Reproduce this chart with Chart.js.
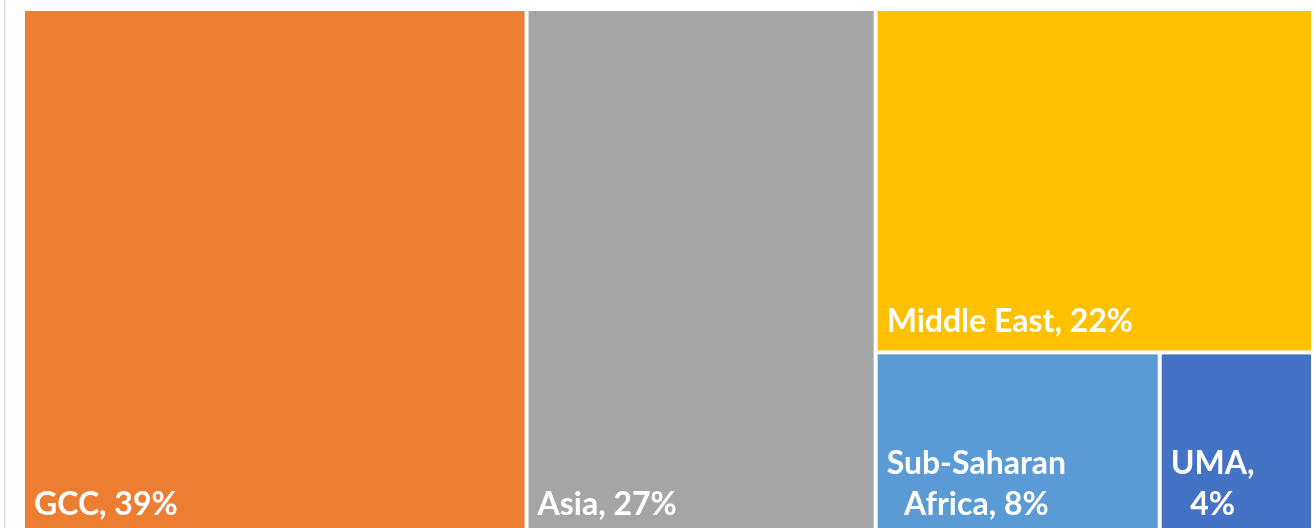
<!DOCTYPE html>
<html><head><meta charset="utf-8">
<script src="https://cdn.jsdelivr.net/npm/chart.js@4"></script>
<style>
html,body{margin:0;padding:0;background:#fff;overflow:hidden;}
#wrap{position:relative;width:1314px;height:545px;}
</style></head><body>
<div id="wrap"><canvas id="c" width="1314" height="545"></canvas></div>
<script>
// ---- data ----
const categories = ['GCC', 'Asia', 'Middle East', 'Sub-Saharan Africa', 'UMA'];
const shares = [38.8, 26.9, 22, 7.6, 4.1];
const colors = ['#ED7D31', '#A5A5A5', '#FFC000', '#5B9BD5', '#4472C4'];

// ---- squarified treemap layout (in pixel-proportional units) ----
function worst(row, side) {
  const s = row.reduce((a, b) => a + b, 0);
  const mx = Math.max(...row), mn = Math.min(...row);
  return Math.max(side * side * mx / (s * s), (s * s) / (side * side * mn));
}
function squarify(areas, x, y, w, h) {
  const out = [];
  let i = 0;
  while (i < areas.length) {
    const side = Math.min(w, h);
    let row = [areas[i]], j = i + 1;
    while (j < areas.length && worst(row.concat(areas[j]), side) <= worst(row, side)) {
      row.push(areas[j]); j++;
    }
    const s = row.reduce((a, b) => a + b, 0);
    if (w >= h) {
      const cw = s / h; let cy = y;
      row.forEach(a => { const ch = a / cw; out.push({x: x, y: cy, w: cw, h: ch}); cy += ch; });
      x += cw; w -= cw;
    } else {
      const rh = s / w; let cx = x;
      row.forEach(a => { const rw = a / rh; out.push({x: cx, y: y, w: rw, h: rh}); cx += rw; });
      y += rh; h -= rh;
    }
    i = j;
  }
  return out;
}

function wrapText(ctx, text, maxW) {
  const words = text.split(' ');
  const lines = [];
  let cur = words[0];
  for (let k = 1; k < words.length; k++) {
    const t = cur + ' ' + words[k];
    if (ctx.measureText(t).width <= maxW) cur = t;
    else { lines.push(cur); cur = words[k]; }
  }
  lines.push(cur);
  return lines;
}

const treemapPlugin = {
  id: 'treemapCells',
  beforeDraw(chart) {
    const ctx = chart.ctx;
    ctx.save();
    ctx.strokeStyle = '#D9D9D9';
    ctx.lineWidth = 1.3;
    ctx.beginPath();
    ctx.moveTo(4.6, 0); ctx.lineTo(4.6, chart.height);
    ctx.stroke();
    ctx.restore();
  },
  afterDatasetsDraw(chart, args, opts) {
    const ctx = chart.ctx;
    const xs = chart.scales.x, ys = chart.scales.y;
    const ca = chart.chartArea;
    const W = ca.right - ca.left, H = ca.bottom - ca.top;
    const total = opts.values.reduce((a, b) => a + b, 0);
    const areas = opts.values.map(v => v / total * W * H);
    const rects = squarify(areas, 0, 0, W, H);
    ctx.save();
    rects.forEach((r, i) => {
      // convert to data units, then to pixels through the scales
      const x0 = xs.getPixelForValue(r.x / W * 100);
      const x1 = xs.getPixelForValue((r.x + r.w) / W * 100);
      const y0 = ys.getPixelForValue(r.y / H * 100);
      const y1 = ys.getPixelForValue((r.y + r.h) / H * 100);
      const g = 2;
      const L = x0 + g, T = y0 + g, R = x1 - g, B = y1 - g;
      ctx.fillStyle = opts.colors[i];
      ctx.fillRect(L, T, R - L, B - T);
      // label
      ctx.font = 'bold 32px Lato';
      ctx.fillStyle = '#FFFFFF';
      ctx.textBaseline = 'alphabetic';
      const txt = opts.labels[i] + ', ' + Math.round(opts.values[i]) + '%';
      const lines = wrapText(ctx, txt, (R - L) - 24);
      const maxW = Math.max(...lines.map(l => ctx.measureText(l).width));
      const cx = L + 9 + maxW / 2;
      ctx.textAlign = 'center';
      const lh = 41;
      lines.forEach((l, k) => {
        const by = B - 18 - (lines.length - 1 - k) * lh;
        ctx.fillText(l, cx, by);
      });
    });
    ctx.restore();
  }
};

new Chart(document.getElementById('c'), {
  type: 'scatter',
  data: { datasets: [{ data: [] }] },
  options: {
    responsive: false,
    animation: false,
    layout: { padding: { left: 23, top: 9, right: 1, bottom: 10 } },
    scales: {
      x: { type: 'linear', min: 0, max: 100, display: false },
      y: { type: 'linear', min: 0, max: 100, reverse: true, display: false }
    },
    plugins: {
      legend: { display: false },
      tooltip: { enabled: false },
      treemapCells: { values: shares, labels: categories, colors: colors }
    }
  },
  plugins: [treemapPlugin]
});
</script>
</body></html>
